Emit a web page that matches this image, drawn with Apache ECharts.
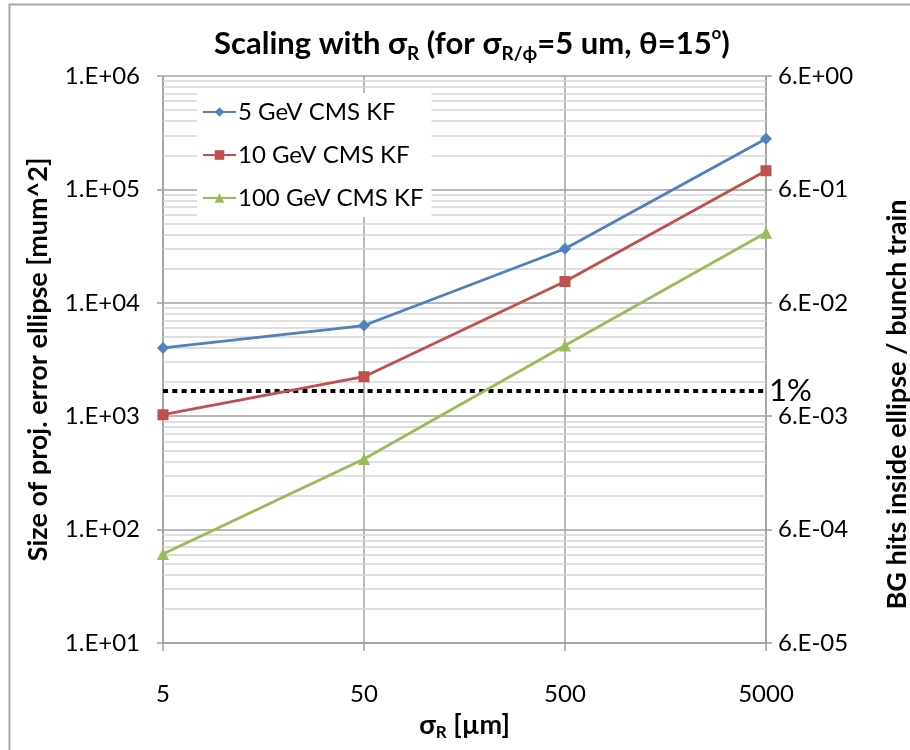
<!DOCTYPE html>
<html><head><meta charset="utf-8">
<script src="https://cdn.jsdelivr.net/npm/echarts@6/dist/echarts.min.js"></script>
<style>html,body{margin:0;padding:0;background:#fff}#c{width:910px;height:750px}</style>
</head><body><div id="c"></div>
<script>
// ---- data ----
const categories = ['5', '50', '500', '5000'];
const seriesNames = ['5 GeV CMS KF', '10 GeV CMS KF', '100 GeV CMS KF'];
const kf5 = [4000, 6300, 30000, 280000];
const kf10 = [1030, 2230, 15400, 146000];
const kf100 = [61, 420, 4200, 41500];
const onePercentHits = 0.01;          // value on the right axis
const rightScale = 6e-6;              // right axis value = left axis value * rightScale
const yMin = 10, yMax = 1e6;
const decades = [10, 100, 1000, 10000, 100000];
const minorFactors = [2, 3, 4, 5, 6, 7, 8, 9];

const FONT = 'Lato, "Liberation Sans", sans-serif';
const colors = ['#4F81BD', '#C0504D', '#9BBB59'];

function expLabel(x) {
  const e = Math.floor(Math.log10(x) + 1e-9);
  const m = Math.round(x / Math.pow(10, e));
  return m + '.E' + (e >= 0 ? '+' : '-') + String(Math.abs(e)).padStart(2, '0');
}

const minorLines = [];
decades.forEach(d => minorFactors.forEach(f => minorLines.push({ yAxis: d * f })));

const chart = echarts.init(document.getElementById('c'), null, { renderer: 'canvas' });
const threshold = onePercentHits / rightScale;

chart.setOption({
  animation: false,
  backgroundColor: '#fff',
  textStyle: { fontFamily: FONT },
  graphic: [{
    type: 'rect', z: 0,
    shape: { x: 9.5, y: 4.5, width: 1000, height: 1000 },
    style: { fill: 'none', stroke: '#a6a6a6', lineWidth: 2 }
  }],
  title: {
    left: 467, top: 20, textAlign: 'center',
    text: '{b|Scaling with σ}{s|R}{b| (for σ}{s|R/ϕ}{b|=5 um, θ=15}{p|o}{b|)}',
    textStyle: {
      rich: {
        b: { fontSize: 31, fontWeight: 'bold', fontFamily: FONT, color: '#000', lineHeight: 38 },
        s: { fontSize: 19, fontWeight: 'bold', fontFamily: FONT, color: '#000', verticalAlign: 'bottom', lineHeight: 38, padding: [15, 0, 0, 0] },
        p: { fontSize: 17, fontWeight: 'bold', fontFamily: FONT, color: '#000', verticalAlign: 'top', lineHeight: 38, padding: [0, 0, 15, 0] }
      }
    }
  },
  legend: {
    data: seriesNames,
    orient: 'vertical',
    left: 197, top: 93, z: 20,
    itemGap: 19, itemWidth: 33, itemHeight: 12,
    padding: [7, 8, 7, 5],
    backgroundColor: '#fff',
    textStyle: { fontSize: 24, color: '#000', fontFamily: FONT, padding: [0, 0, 0, -3] }
  },
  grid: { left: 163, right: 144, top: 76, bottom: 107, outerBoundsMode: 'none', containLabel: false },
  xAxis: {
    type: 'category', data: categories, boundaryGap: false,
    axisLine: { show: true, lineStyle: { color: '#a0a0a0', width: 1.5 } },
    axisTick: { show: true, length: 8, lineStyle: { color: '#a0a0a0', width: 1.5 }, alignWithLabel: true },
    axisLabel: { fontSize: 24, color: '#000', margin: 39, fontFamily: FONT },
    splitLine: { show: true, lineStyle: { color: '#a0a0a0', width: 1.5 } },
    name: '{b|σ}{s|R}{b| [µm]}',
    nameLocation: 'middle', nameGap: 63,
    nameTextStyle: {
      rich: {
        b: { fontSize: 27, fontWeight: 'bold', color: '#000', fontFamily: FONT, lineHeight: 32 },
        s: { fontSize: 17, fontWeight: 'bold', color: '#000', fontFamily: FONT, verticalAlign: 'bottom', lineHeight: 32, padding: [13, 0, 0, 0] }
      }
    }
  },
  yAxis: [{
    type: 'log', logBase: 10, min: yMin, max: yMax, position: 'left',
    axisLine: { show: true, lineStyle: { color: '#a0a0a0', width: 1.5 } },
    axisTick: { show: true, length: 6, lineStyle: { color: '#a0a0a0', width: 1.5 } },
    axisLabel: { fontSize: 24, color: '#000', margin: 23, fontFamily: FONT, formatter: v => expLabel(v) },
    splitLine: { show: true, lineStyle: { color: '#a0a0a0', width: 1.5 } },
    name: 'Size of proj. error ellipse [mum^2]',
    nameLocation: 'middle', nameGap: 111, nameRotate: 90,
    nameTextStyle: { fontSize: 27, fontWeight: 'bold', color: '#000', fontFamily: FONT }
  }, {
    type: 'log', logBase: 10, min: yMin, max: yMax, position: 'right',
    axisLine: { show: true, lineStyle: { color: '#a0a0a0', width: 1.5 } },
    axisTick: { show: true, length: 6, lineStyle: { color: '#a0a0a0', width: 1.5 } },
    axisLabel: { fontSize: 24, color: '#000', margin: 12, fontFamily: FONT, formatter: v => expLabel(v * rightScale) },
    splitLine: { show: false },
    name: 'BG hits inside ellipse / bunch train',
    nameLocation: 'middle', nameGap: 118, nameRotate: 90,
    nameTextStyle: { fontSize: 27, fontWeight: 'bold', color: '#000', fontFamily: FONT, padding: [0, 90, 0, 0] }
  }],
  series: [
    {
      name: 'minor', type: 'line', data: [], z: 1, silent: true,
      markLine: {
        silent: true, symbol: 'none', label: { show: false }, animation: false, z: 1,
        lineStyle: { color: '#d4d4d4', width: 1.5, type: 'solid' },
        data: minorLines
      }
    },
    {
      name: seriesNames[0], type: 'line', data: kf5, color: colors[0],
      symbol: 'diamond', symbolSize: 12, lineStyle: { width: 2.8 }, z: 5
    },
    {
      name: seriesNames[1], type: 'line', data: kf10, color: colors[1],
      symbol: 'rect', symbolSize: 11, lineStyle: { width: 2.8 }, z: 5
    },
    {
      name: seriesNames[2], type: 'line', data: kf100, color: colors[2],
      symbol: 'triangle', symbolSize: 12, lineStyle: { width: 2.8 }, z: 5
    },
    {
      name: '1%', type: 'line', yAxisIndex: 1,
      data: categories.map(() => threshold),
      showSymbol: false, symbol: 'none', color: '#000', z: 4,
      lineStyle: { color: '#000', width: 4, type: [5, 4.3], cap: 'butt' },
      endLabel: { show: true, formatter: '1%', fontSize: 31, color: '#000', distance: 3, fontFamily: FONT }
    }
  ]
});
</script>
</body></html>
